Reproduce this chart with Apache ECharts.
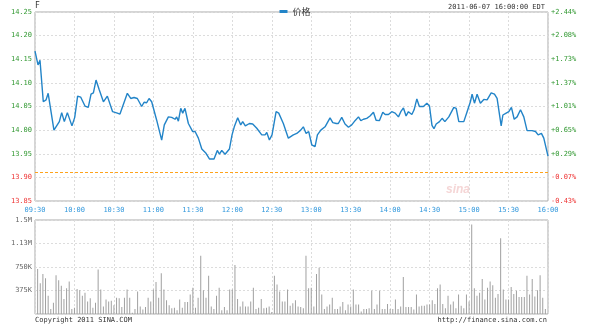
<!DOCTYPE html>
<html>
<head>
<meta charset="utf-8">
<script src="https://cdn.jsdelivr.net/npm/echarts@6/dist/echarts.min.js"></script>
<style>html,body{margin:0;padding:0;background:#fff}#c{width:590px;height:325px}</style>
</head>
<body>
<div id="c"></div>
<script>
var timeLabels = ['09:30','10:00','10:30','11:00','11:30','12:00','12:30','13:00','13:30','14:00','14:30','15:00','15:30','16:00'];
var priceTicks = ['13.85','13.90','13.95','14.00','14.05','14.10','14.15','14.20','14.25'];
var pctTicks = ['-0.43%','-0.07%','+0.29%','+0.65%','+1.01%','+1.37%','+1.73%','+2.08%','+2.44%'];
var volTicks = ['','375K','750K','1.13M','1.5M'];
var prevClose = 13.91;

var priceMinutes = [0,2.3,3.8,6.3,8.4,10,14.4,18.5,20.3,22.3,24.6,28.1,30.2,32.4,34.7,38,40.5,42.6,44.4,46.4,48.9,52,55,59,62.6,64.6,70.2,72.8,75.3,77.8,81.1,82.9,84.9,86.7,88.7,92.5,96.3,98.3,101.4,103.9,106.5,107.7,109,110.8,112.3,114,116.6,119.9,121.7,124.2,126.8,130,132.6,136.1,138.6,140.2,142,144.5,147.8,149.8,151.5,154.1,156.4,157.9,159.9,163,165.5,168.6,172.4,174.9,176.2,178.2,180.2,183.3,185.3,188.8,192.6,196.4,199,202,204,206.1,208.1,210.4,212.9,214.7,217.3,220.5,224.3,226.4,229,230.6,233.2,235.7,238.3,240.8,243.3,245.9,247.7,249.7,252.2,254.7,257.3,259.3,261.8,264.4,266.2,268.7,271.2,273.8,276.3,278.1,280.1,282.1,283.9,286.5,288.2,290.3,292.2,295.3,297.9,299.9,301.8,303.3,305,306.5,307.5,309.5,311.6,314.6,318.4,320.2,322.2,326,328.5,331,332.3,334.1,336.1,338.6,341.2,343.7,346.8,349.3,351.3,354.4,355.7,358.2,360.2,362.2,364.3,366.5,369.1,371.6,374.1,377.9,380.5,382.5,385,386.8,390];
var prices = [14.167,14.138,14.148,14.060,14.064,14.078,14.000,14.018,14.037,14.018,14.037,14.009,14.027,14.072,14.070,14.051,14.048,14.076,14.079,14.106,14.085,14.060,14.072,14.039,14.036,14.034,14.078,14.067,14.069,14.067,14.050,14.059,14.058,14.067,14.060,14.021,13.979,14.011,14.028,14.027,14.023,14.028,14.019,14.046,14.036,14.046,14.014,13.997,13.997,13.983,13.960,13.951,13.939,13.939,13.957,13.949,13.957,13.949,13.960,13.990,14.007,14.026,14.011,14.018,14.009,14.014,14.013,14.004,13.990,13.990,13.995,13.979,13.990,14.039,14.036,14.014,13.983,13.990,13.993,14.000,14.007,13.993,13.997,13.969,13.965,13.990,14.000,14.007,14.026,14.016,14.014,14.014,14.027,14.013,14.006,14.011,14.020,14.028,14.020,14.023,14.025,14.030,14.038,14.021,14.020,14.038,14.033,14.033,14.039,14.036,14.028,14.039,14.047,14.030,14.039,14.033,14.043,14.066,14.050,14.050,14.057,14.051,14.010,14.003,14.013,14.009,14.018,14.025,14.018,14.028,14.048,14.046,14.018,14.018,14.039,14.060,14.076,14.057,14.076,14.057,14.065,14.064,14.079,14.076,14.067,14.009,14.032,14.036,14.039,14.048,14.023,14.028,14.043,14.028,13.999,13.999,13.997,13.990,13.993,13.983,13.945];

var volMinutes = [2,4,6,8,10,12,14,16,18,20,22,24,26,28,30,32,34,36,38,40,42,44,46,48,50,52,54,56,58,60,62,64,66,68,70,72,74,76,78,80,82,84,86,88,90,92,94,96,98,100,102,104,106,108,110,112,114,116,118,120,122,124,126,128,130,132,134,136,138,140,142,144,146,148,150,152,154,156,158,160,162,164,166,168,170,172,174,176,178,180,182,184,186,188,190,192,194,196,198,200,202,204,206,208,210,212,214,216,218,220,222,224,226,228,230,232,234,236,238,240,242,244,246,248,250,252,254,256,258,260,262,264,266,268,270,272,274,276,278,280,282,284,286,288,290,292,294,296,298,300,302,304,306,308,310,312,314,316,318,320,322,324,326,328,330,332,334,336,338,340,342,344,346,348,350,352,354,356,358,360,362,364,366,368,370,372,374,376,378,380,382,384,386,388];
var volumes = [0.72,0.49,0.64,0.57,0.29,0.08,0.18,0.62,0.54,0.45,0.24,0.41,0.52,0.08,0.10,0.40,0.38,0.29,0.34,0.20,0.25,0.10,0.18,0.71,0.39,0.12,0.23,0.20,0.21,0.14,0.26,0.25,0.11,0.26,0.39,0.26,0.02,0.08,0.36,0.12,0.07,0.11,0.26,0.20,0.39,0.51,0.26,0.65,0.39,0.22,0.14,0.09,0.10,0.06,0.23,0.10,0.19,0.19,0.31,0.42,0.10,0.26,0.93,0.38,0.26,0.61,0.12,0.08,0.29,0.42,0.06,0.11,0.06,0.39,0.39,0.78,0.24,0.12,0.20,0.12,0.12,0.20,0.42,0.08,0.10,0.24,0.09,0.10,0.12,0.03,0.61,0.47,0.36,0.20,0.20,0.39,0.13,0.17,0.22,0.12,0.11,0.09,0.93,0.41,0.42,0.12,0.64,0.74,0.31,0.08,0.12,0.15,0.26,0.08,0.08,0.12,0.19,0.06,0.15,0.12,0.39,0.15,0.15,0.04,0.08,0.08,0.09,0.37,0.08,0.15,0.37,0.08,0.08,0.16,0.08,0.08,0.23,0.08,0.12,0.59,0.11,0.11,0.11,0.07,0.31,0.12,0.13,0.13,0.15,0.15,0.22,0.16,0.41,0.47,0.16,0.09,0.29,0.15,0.20,0.09,0.31,0.13,0.09,0.31,0.20,1.43,0.41,0.29,0.34,0.56,0.23,0.42,0.52,0.46,0.26,0.32,1.21,0.39,0.23,0.23,0.43,0.32,0.37,0.27,0.27,0.27,0.61,0.31,0.56,0.28,0.38,0.62,0.26,0.08];

var priceData = priceMinutes.map(function (m, i) { return [m, prices[i]]; });
var volData = volMinutes.map(function (m, i) { return [m, volumes[i]]; });

var MONO = 'DejaVu Sans Mono';
var GREEN = '#339933', RED = '#ee3333', BLUE = '#3399dd';
var split = { show: true, lineStyle: { color: '#dcdcdc', type: [2, 2], width: 1 } };

var chart = echarts.init(document.getElementById('c'), null, { renderer: 'canvas' });
chart.setOption({
  animation: false,
  backgroundColor: '#fff',
  textStyle: { fontFamily: MONO },
  legend: {
    data: ['价格'], top: 2, left: 'center',
    icon: 'rect', itemWidth: 8, itemHeight: 3, itemGap: 4,
    textStyle: { fontFamily: 'Noto Sans CJK SC', fontSize: 9, color: '#333' }
  },
  graphic: [
    { type: 'text', left: 35, top: 2, style: { text: 'F', font: '8px ' + MONO, fill: '#333' } },
    { type: 'text', right: 45, top: 4, style: { text: '2011-06-07 16:00:00 EDT', font: '7px ' + MONO, fill: '#333' } },
    { type: 'text', left: 35, top: 317, style: { text: 'Copyright 2011 SINA.COM', font: '7px ' + MONO, fill: '#333' } },
    { type: 'text', right: 43, top: 317, style: { text: 'http://finance.sina.com.cn', font: '7px ' + MONO, fill: '#333' } },
    { type: 'text', left: 446, top: 184, style: { text: 'sina', font: 'italic bold 12px Arial', fill: '#f5d6d6' } }
  ],
  grid: [
    { left: 35, right: 42, top: 12, height: 189, show: true, borderColor: '#aaa', borderWidth: 1 },
    { left: 35, right: 42, top: 220, height: 94, show: true, borderColor: '#aaa', borderWidth: 1 }
  ],
  xAxis: [
    { type: 'value', gridIndex: 0, min: 0, max: 390, interval: 30,
      axisLine: { show: false }, axisTick: { show: false }, splitLine: split,
      axisLabel: { margin: 6, fontSize: 7, fontFamily: MONO, color: BLUE,
        formatter: function (v) { return timeLabels[Math.round(v / 30)]; } } },
    { type: 'value', gridIndex: 1, min: 0, max: 390, interval: 30,
      axisLine: { show: false }, axisTick: { show: false }, splitLine: split,
      axisLabel: { show: false } }
  ],
  yAxis: [
    { type: 'value', gridIndex: 0, min: 13.85, max: 14.25, interval: 0.05,
      axisLine: { show: false }, axisTick: { show: false }, splitLine: split,
      axisLabel: { margin: 3, fontSize: 7, fontFamily: MONO,
        formatter: function (v) { return priceTicks[Math.round((v - 13.85) / 0.05)]; },
        color: function (v) { return v >= prevClose ? GREEN : RED; } } },
    { type: 'value', gridIndex: 0, min: 13.85, max: 14.25, interval: 0.05, position: 'right',
      axisLine: { show: false }, axisTick: { show: false }, splitLine: { show: false },
      axisLabel: { margin: 3, fontSize: 7, fontFamily: MONO,
        formatter: function (v) { return pctTicks[Math.round((v - 13.85) / 0.05)]; },
        color: function (v) { return v >= prevClose ? GREEN : RED; } } },
    { type: 'value', gridIndex: 1, min: 0, max: 1.5, interval: 0.375,
      axisLine: { show: false }, axisTick: { show: false }, splitLine: split,
      axisLabel: { margin: 3, fontSize: 7, fontFamily: MONO, color: '#666',
        formatter: function (v) { return volTicks[Math.round(v / 0.375)]; } } }
  ],
  series: [
    { name: '价格', type: 'line', xAxisIndex: 0, yAxisIndex: 0, data: priceData,
      showSymbol: false, symbol: 'none', lineStyle: { color: '#2284c8', width: 1.4 }, itemStyle: { color: '#2284c8' },
      markLine: { silent: true, symbol: 'none', label: { show: false },
        lineStyle: { color: '#ffa31a', type: [3, 2], width: 1 },
        data: [{ yAxis: prevClose }] } },
    { name: 'vol', type: 'bar', xAxisIndex: 1, yAxisIndex: 2, data: volData,
      barWidth: 1, itemStyle: { color: '#a0a0a0' } }
  ]
});
</script>
</body>
</html>
